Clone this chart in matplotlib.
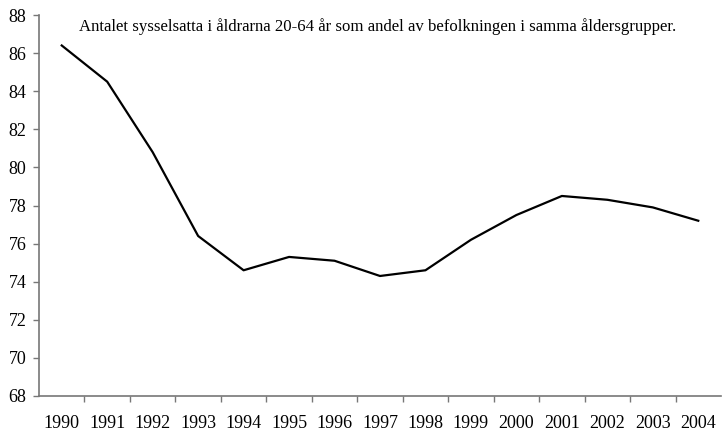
import matplotlib.pyplot as plt
import numpy as np

years = [str(y) for y in range(1990, 2005)]
employment_rate = [86.4, 84.5, 80.8, 76.4, 74.6, 75.3, 75.1, 74.3, 74.6, 76.2,
                   77.5, 78.5, 78.3, 77.9, 77.2]
title = "Antalet sysselsatta i åldrarna 20-64 år som andel av befolkningen i samma åldersgrupper."

plt.rcParams['font.family'] = ['Liberation Serif', 'DejaVu Serif']

fig = plt.figure(figsize=(7.22, 4.32), dpi=100)
ax = fig.add_axes([39 / 722, 36 / 432, 682 / 722, 381 / 432])

x = np.arange(len(years))
ax.plot(x, employment_rate, color='black', linewidth=1.6)

ax.set_xlim(-0.5, len(years) - 0.5)
ax.set_ylim(68, 88)
ax.set_yticks(range(68, 89, 2))
ax.set_xticks(x)
ax.set_xticklabels(years)
ax.set_xticks(np.arange(0.5, len(years) - 1), minor=True)

axis_color = '#777777'
for side in ['top', 'right']:
    ax.spines[side].set_visible(False)
for side in ['left', 'bottom']:
    ax.spines[side].set_color(axis_color)
    ax.spines[side].set_linewidth(1.2)

ax.tick_params(axis='y', length=4, width=1, color=axis_color, pad=5, labelsize=13)
ax.tick_params(axis='x', which='major', length=0, pad=14, labelsize=13)
ax.tick_params(axis='x', which='minor', length=4, width=1, color=axis_color)

ax.text(0.496, 0.97, title, transform=ax.transAxes, ha='center', va='center', fontsize=12.1)

plt.savefig("out.png")
